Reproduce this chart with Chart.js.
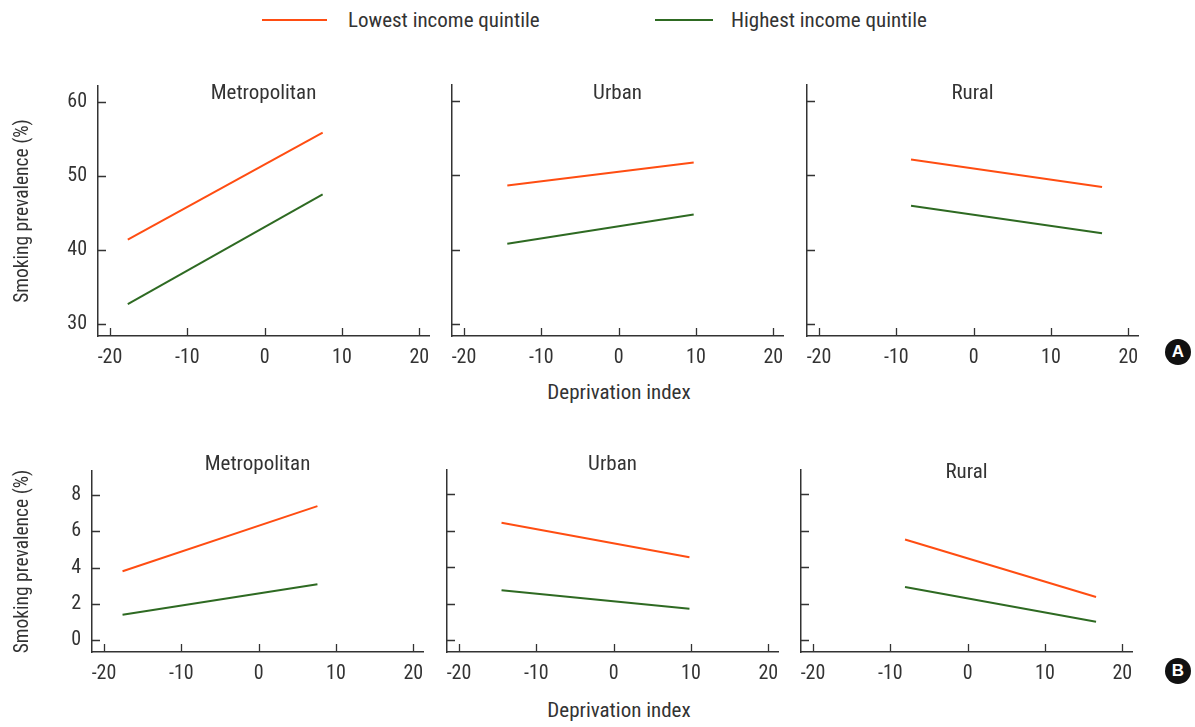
<!DOCTYPE html>
<html>
<head>
<meta charset="utf-8">
<script src="https://cdn.jsdelivr.net/npm/chart.js@4.4.1/dist/chart.umd.min.js"></script>
<style>
  html, body { margin: 0; padding: 0; background: #fff; }
  body { width: 1195px; height: 727px; position: relative; overflow: hidden;
         font-family: 'Liberation Sans Narrow', 'Roboto Condensed', Roboto, sans-serif; color: #333; }
  canvas { position: absolute; }
  .lg-line { position: absolute; height: 2px; }
  .lg-text, .xtitle { position: absolute; font-size: 21px; line-height: 24px; white-space: nowrap; }
  .xtitle { transform: translateX(-50%); }
  .badge { position: absolute; width: 26px; height: 26px; border-radius: 50%; background: #111;
           color: #fff; font: bold 17px 'Liberation Sans', Arial, sans-serif; text-align: center; line-height: 26px; }
</style>
</head>
<body>
<div class="lg-line" style="left:262px; top:19px; width:65px; background:#ff4d12;"></div>
<div class="lg-text" style="left:348px; top:8px;">Lowest income quintile</div>
<div class="lg-line" style="left:655px; top:19px; width:58px; background:#2e6a22;"></div>
<div class="lg-text" style="left:731px; top:8px;">Highest income quintile</div>
<div class="xtitle" style="left:619px; top:380px;">Deprivation index</div>
<div class="xtitle" style="left:619px; top:698px;">Deprivation index</div>
<div class="badge" style="left:1165px; top:339px;">A</div>
<div class="badge" style="left:1165px; top:658px;">B</div>

<canvas id="a0"></canvas><canvas id="a1"></canvas><canvas id="a2"></canvas>
<canvas id="b0"></canvas><canvas id="b1"></canvas><canvas id="b2"></canvas>

<script>
// data
const regions = ['Metropolitan', 'Urban', 'Rural'];
const seriesNames = ['Lowest income quintile', 'Highest income quintile'];
const xTicks = [-20, -10, 0, 10, 20];
const yTicksA = [30, 40, 50, 60];
const yTicksB = [0, 2, 4, 6, 8];

// deprivation index at the start / end of each line
const xSpanA = [[-17.7, 7.5], [-14.4, 9.7], [-8.1, 16.6]];
const lowestA = [[41.4, 55.8], [48.6, 51.7], [52.1, 48.4]];
const highestA = [[32.7, 47.5], [40.8, 44.7], [45.9, 42.2]];

const xSpanB = [[-17.6, 7.6], [-14.5, 9.8], [-8.1, 16.6]];
const lowestB = [[3.8, 7.4], [6.44, 4.55], [5.52, 2.36]];
const highestB = [[1.4, 3.08], [2.73, 1.72], [2.91, 1.0]];

const colors = ['#ff4d12', '#2e6a22'];
const txt = '#333';
const FONT = "'Liberation Sans Narrow', 'Roboto Condensed', Roboto, sans-serif";

Chart.defaults.font.family = FONT;
Chart.defaults.font.size = 20;
Chart.defaults.color = txt;

// inward tick marks + panel title
const panelDeco = {
  id: 'panelDeco',
  afterDraw(chart, args, opts) {
    const c = chart.ctx, a = chart.chartArea;
    const xs = chart.scales.x, ys = chart.scales.y;
    c.save();
    c.strokeStyle = txt;
    c.lineWidth = 1.3;
    c.beginPath();
    xs.ticks.forEach(t => {
      const px = Math.round(xs.getPixelForValue(t.value)) + 0.5;
      c.moveTo(px, a.bottom); c.lineTo(px, a.bottom - 8);
    });
    ys.ticks.forEach(t => {
      const py = Math.round(ys.getPixelForValue(t.value)) + 0.5;
      c.moveTo(a.left, py); c.lineTo(a.left + 8, py);
    });
    c.stroke();
    c.fillStyle = txt;
    c.font = '21px ' + FONT;
    c.textAlign = 'center';
    c.textBaseline = 'middle';
    c.fillText(opts.text, (a.left + a.right) / 2, opts.y - chart.canvas.offsetTop);
    c.restore();
  }
};

function makePanel(id, row, col) {
  const isA = row === 0;
  const xSpan = (isA ? xSpanA : xSpanB)[col];
  const series = isA ? [lowestA[col], highestA[col]] : [lowestB[col], highestB[col]];
  const yTicks = isA ? yTicksA : yTicksB;

  const areaTop = isA ? 85 : 470;
  const areaBottom = isA ? 336 : 652;
  const areaLeft = (isA ? [98, 452, 807] : [92, 447, 801])[col];
  const areaW = 331;
  const yw = col === 0 ? areaLeft : 12;
  const padTop = 22, xh = 40, padRight = 22;

  const cv = document.getElementById(id);
  cv.width = yw + areaW + padRight;
  cv.height = padTop + (areaBottom - areaTop) + xh;
  cv.style.left = (areaLeft - yw) + 'px';
  cv.style.top = (areaTop - padTop) + 'px';

  const titleY = isA ? 94 : (col === 2 ? 473 : 465);

  new Chart(cv, {
    type: 'scatter',
    data: {
      datasets: series.map((ys, i) => ({
        label: seriesNames[i],
        data: ys.map((v, k) => ({ x: xSpan[k], y: v })),
        showLine: true,
        borderColor: colors[i],
        borderWidth: 2,
        pointRadius: 0,
        pointHoverRadius: 0
      }))
    },
    options: {
      responsive: false,
      animation: false,
      events: [],
      layout: { padding: { top: padTop, right: padRight, left: 0, bottom: 0 } },
      plugins: {
        legend: { display: false },
        tooltip: { enabled: false },
        panelDeco: { text: regions[col], y: titleY }
      },
      scales: {
        x: {
          type: 'linear',
          min: -21.55, max: 21.25,
          afterBuildTicks: s => { s.ticks = xTicks.map(v => ({ value: v })); },
          afterFit: s => { s.height = xh; },
          grid: { display: false, drawTicks: false },
          border: { color: txt, width: 1.5 },
          ticks: { padding: 10, maxRotation: 0, font: { size: 20 } }
        },
        y: {
          type: 'linear',
          min: isA ? 28.4 : -0.66,
          max: isA ? 62.1 : 9.34,
          afterBuildTicks: s => { s.ticks = yTicks.map(v => ({ value: v })); },
          afterFit: s => { s.width = yw; },
          grid: { display: false, drawTicks: false },
          border: { color: txt, width: 1.5 },
          ticks: { display: col === 0, padding: 11, font: { size: 20 } },
          title: {
            display: col === 0,
            text: 'Smoking prevalence (%)',
            font: { size: 19.5 },
            padding: { top: 11, bottom: 0 }
          }
        }
      }
    },
    plugins: [panelDeco]
  });
}

['a', 'b'].forEach((r, row) => {
  [0, 1, 2].forEach(col => makePanel(r + col, row, col));
});
</script>
</body>
</html>
